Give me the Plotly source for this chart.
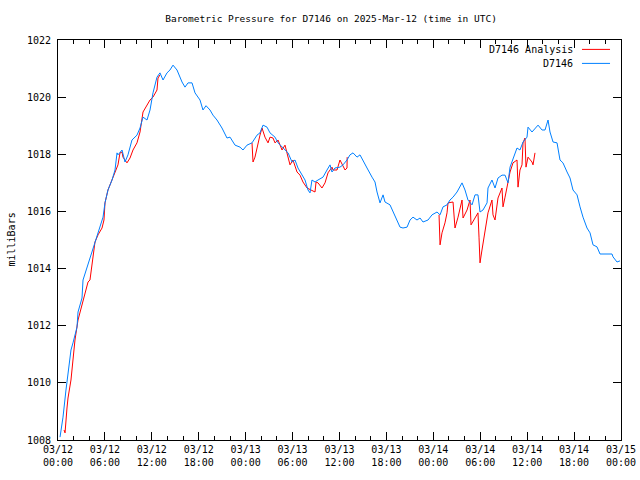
import pandas as pd
import plotly.graph_objects as go

BASE = pd.Timestamp("2025-03-12 00:00")

# ---- D7146 (observed) : hours since 03/12 00:00 UTC, pressure (mb)
obs_hours = [0.26, 0.64, 1.02, 1.28, 1.66, 1.92, 2.43, 2.56, 3.07, 3.2, 3.71, 4.09, 4.48, 4.99, 5.37,
             5.76, 6.01, 6.39, 6.91, 7.29, 7.55, 7.67, 8.19, 8.57, 8.95, 9.46, 10.1, 10.49, 10.87, 11.38,
             11.77, 12.15, 12.66, 13.04, 13.43, 13.94, 14.32, 14.71, 15.22, 15.86, 16.24, 16.63, 17.14,
             17.52, 18.16, 18.54, 18.93, 19.44, 19.82, 20.33, 20.97, 21.61, 22.0, 22.64, 23.28, 23.66,
             24.17, 24.81, 25.45, 25.83, 26.22, 26.73, 27.11, 27.75, 28.14, 28.78, 29.42, 29.93, 30.31,
             30.69, 31.21, 31.59, 31.97, 32.23, 32.48, 32.87, 33.25, 33.89, 34.4, 34.79, 35.04, 35.42,
             36.06, 36.45, 36.96, 37.34, 37.73, 38.24, 38.62, 39.01, 39.52, 40.16, 40.54, 40.8, 41.18,
             41.57, 41.82, 42.46, 42.84, 43.36, 43.74, 44.12, 44.64, 45.02, 45.4, 45.91, 46.3, 46.68,
             47.32, 47.83, 48.47, 48.86, 49.24, 49.75, 50.13, 50.52, 51.03, 51.67, 52.05, 52.43, 52.95,
             53.33, 53.71, 53.97, 54.35, 54.87, 54.99, 55.5, 55.89, 56.27, 56.78, 57.17, 57.55, 57.81,
             58.06, 58.7, 59.08, 59.47, 59.98, 60.11, 60.62, 61.0, 61.39, 61.9, 62.28, 62.67, 62.92,
             63.31, 63.82, 64.2, 64.58, 65.1, 65.48, 65.86, 66.38, 66.76, 67.14, 67.65, 68.04, 68.42,
             68.93, 69.32, 70.21, 70.85, 70.98, 71.49, 71.87]
obs_mb = [1008.1, 1008.8, 1009.75, 1010.35, 1011.15, 1011.4, 1011.95, 1012.48, 1012.97, 1013.6, 1014.05,
          1014.37, 1014.72, 1015.1, 1015.45, 1015.8, 1016.3, 1016.75, 1017.1, 1017.45, 1018.05, 1017.98,
          1018.15, 1017.73, 1017.98, 1018.5, 1018.67, 1018.92, 1019.3, 1019.2, 1019.55, 1020.15, 1020.7,
          1020.85, 1020.6, 1020.85, 1020.95, 1021.12, 1020.95, 1020.53, 1020.35, 1020.5, 1020.5, 1020.15,
          1019.9, 1019.55, 1019.7, 1019.55, 1019.37, 1019.2, 1018.92, 1018.57, 1018.6, 1018.32, 1018.25,
          1018.15, 1018.32, 1018.4, 1018.67, 1018.75, 1019.02, 1018.95, 1018.75, 1018.6, 1018.4, 1018.22,
          1018.05, 1017.73, 1017.8, 1017.52, 1017.27, 1017.1, 1016.75, 1016.65, 1017.1, 1017.03, 1017.1,
          1017.2, 1017.45, 1017.63, 1017.38, 1017.52, 1017.55, 1017.63, 1017.8, 1017.98, 1018.05, 1017.9,
          1017.98, 1017.8, 1017.52, 1017.2, 1017.03, 1016.68, 1016.3, 1016.58, 1016.33, 1016.23, 1015.98,
          1015.7, 1015.45, 1015.42, 1015.45, 1015.7, 1015.8, 1015.7, 1015.77, 1015.63, 1015.7, 1015.88,
          1015.98, 1015.88, 1016.16, 1016.23, 1016.4, 1016.5, 1016.68, 1017.0, 1016.75, 1016.4, 1016.23,
          1016.58, 1016.58, 1015.98, 1016.05, 1016.3, 1016.82, 1017.1, 1016.82, 1017.17, 1017.27, 1017.27,
          1017.0, 1017.55, 1017.73, 1018.22, 1018.15, 1018.43, 1018.6, 1018.95, 1018.78, 1018.92, 1019.02,
          1018.85, 1018.85, 1019.2, 1018.78, 1018.43, 1018.4, 1017.8, 1017.7, 1017.38, 1017.17, 1016.75,
          1016.58, 1016.16, 1015.8, 1015.42, 1015.25, 1014.83, 1014.76, 1014.51, 1014.51, 1014.51, 1014.41,
          1014.23, 1014.27]

# ---- D7146 Analysis : three segments separated by gaps
ana1_hours = [0.77, 0.9, 1.15, 1.28, 1.66, 1.92, 2.17, 2.56, 3.07, 3.45, 3.84, 4.09, 4.22, 4.48, 4.73,
              5.12, 5.63, 5.88, 6.01, 6.39, 6.91, 7.29, 7.67, 7.93, 8.19, 8.31, 8.82, 9.21, 9.59, 10.1,
              10.49, 10.87, 11.38, 11.77, 12.15, 12.66, 12.79, 13.04]
ana1_mb = [1008.35, 1008.25, 1009.12, 1009.47, 1010.1, 1010.9, 1011.5, 1012.2, 1012.72, 1013.14, 1013.53,
           1013.6, 1013.85, 1014.48, 1014.93, 1015.18, 1015.42, 1015.7, 1016.3, 1016.75, 1017.1, 1017.35,
           1017.63, 1018.05, 1018.08, 1017.9, 1017.7, 1017.87, 1018.15, 1018.4, 1018.78, 1019.48, 1019.72,
           1019.9, 1020.0, 1020.25, 1020.67, 1020.78]
ana2_hours = [24.81, 24.94, 25.19, 25.45, 25.83, 26.09, 26.47, 26.86, 27.11, 27.5, 27.75, 28.14, 28.65,
              29.03, 29.29, 29.67, 30.05, 30.57, 30.95, 31.33, 31.85, 32.48, 32.87, 33.0, 33.25, 33.76,
              34.15, 34.53, 35.04, 35.17, 35.68, 36.06, 36.45, 36.71, 36.96, 36.98]
ana2_mb = [1018.4, 1017.73, 1017.9, 1018.25, 1018.67, 1018.92, 1018.6, 1018.4, 1018.6, 1018.57, 1018.4,
           1018.5, 1018.15, 1018.32, 1018.05, 1017.63, 1017.8, 1017.38, 1017.27, 1017.03, 1016.82, 1016.75,
           1016.68, 1017.03, 1017.0, 1016.82, 1017.0, 1017.35, 1017.55, 1017.45, 1017.45, 1017.8, 1017.55,
           1017.45, 1017.52, 1017.9]
ana3_hours = [48.73, 48.86, 49.11, 49.49, 49.75, 49.88, 50.52, 50.77, 51.16, 51.67, 51.8, 52.31, 52.69,
              52.82, 53.33, 53.71, 53.84, 53.97, 54.22, 54.61, 54.99, 55.5, 55.63, 55.89, 56.27, 56.78,
              56.91, 57.17, 57.55, 57.81, 58.19, 58.7, 58.83, 59.08, 59.34, 59.47, 59.72, 59.85, 60.11,
              60.62, 60.75, 61.0]
ana3_mb = [1015.88, 1014.83, 1015.25, 1015.6, 1015.95, 1016.3, 1016.33, 1015.42, 1015.8, 1016.4, 1015.77,
           1016.05, 1016.4, 1015.53, 1015.77, 1015.95, 1015.1, 1014.2, 1014.65, 1015.35, 1015.95, 1016.4,
           1015.88, 1015.7, 1016.47, 1016.82, 1016.16, 1016.5, 1017.0, 1017.38, 1017.7, 1017.8, 1016.85,
           1017.45, 1017.63, 1018.4, 1018.57, 1017.55, 1017.9, 1017.73, 1017.63, 1018.05]

# ---- axis ticks
tick_hours = list(range(0, 73, 6))
tick_labels = ["03/12<br>00:00", "03/12<br>06:00", "03/12<br>12:00", "03/12<br>18:00",
               "03/13<br>00:00", "03/13<br>06:00", "03/13<br>12:00", "03/13<br>18:00",
               "03/14<br>00:00", "03/14<br>06:00", "03/14<br>12:00", "03/14<br>18:00",
               "03/15<br>00:00"]
y_ticks = [1008, 1010, 1012, 1014, 1016, 1018, 1020, 1022]

TITLE = "Barometric Pressure for D7146 on 2025-Mar-12 (time in UTC)"
RED = "#ff0000"
BLUE = "#0080ff"
FONT = "DejaVu Sans Mono"


def to_time(hours):
    return [None if h is None else BASE + pd.Timedelta(hours=h) for h in hours]


ana_hours = ana1_hours + [ana1_hours[-1] + 0.01] + ana2_hours + [ana2_hours[-1] + 0.01] + ana3_hours
ana_mb = ana1_mb + [None] + ana2_mb + [None] + ana3_mb

fig = go.Figure()
fig.add_trace(go.Scatter(x=to_time(ana_hours), y=ana_mb, mode="lines", name="D7146 Analysis",
                         line=dict(color=RED, width=1), connectgaps=False, showlegend=False))
fig.add_trace(go.Scatter(x=to_time(obs_hours), y=obs_mb, mode="lines", name="D7146",
                         line=dict(color=BLUE, width=1), showlegend=False))

# custom gnuplot-style legend (text right-aligned, sample line to the right)
for i, (name, col) in enumerate([("D7146 Analysis", RED), ("D7146", BLUE)]):
    yy = 0.9765 - i * 0.035
    fig.add_annotation(xref="paper", yref="paper", x=0.919, y=yy, text=name, showarrow=False,
                       xanchor="right", yanchor="middle", font=dict(family=FONT, size=10, color="black"))
    fig.add_shape(type="line", xref="paper", yref="paper", x0=0.9307, x1=0.9805, y0=yy, y1=yy,
                  line=dict(color=col, width=1))

fig.add_annotation(xref="paper", yref="paper", x=0, y=0.5, xshift=-55, text="milliBars",
                   textangle=-90, showarrow=False, font=dict(family=FONT, size=10, color="black"))

fig.update_layout(
    width=640, height=480,
    margin=dict(l=58, r=19, t=40, b=40, autoexpand=False),
    paper_bgcolor="white", plot_bgcolor="white",
    font=dict(family=FONT, size=10, color="black"),
    title=dict(text=TITLE, x=0.485, xanchor="center", xref="paper", y=1 - 19 / 480, yanchor="middle",
               font=dict(family=FONT, size=9.5, color="black")),
)
fig.update_xaxes(
    range=[BASE, BASE + pd.Timedelta(hours=72)],
    tickvals=to_time(tick_hours), ticktext=tick_labels,
    ticks="inside", ticklen=8, tickcolor="black", tickwidth=1,
    minor=dict(dtick=2 * 3600 * 1000, ticks="inside", ticklen=4, tickcolor="black", tickwidth=1),
    showline=True, linecolor="black", linewidth=1, mirror="ticks",
    showgrid=False, zeroline=False, tickangle=0, automargin=False,
)
fig.update_yaxes(
    range=[1008, 1022], tickvals=y_ticks,
    ticks="inside", ticklen=8, tickcolor="black", tickwidth=1, ticklabelstandoff=4,
    showline=True, linecolor="black", linewidth=1, mirror="ticks",
    showgrid=False, zeroline=False, automargin=False,
)

fig.write_html("out.html", config={"displayModeBar": False},
               post_script="document.body.style.margin='0';document.body.style.overflow='hidden';")
